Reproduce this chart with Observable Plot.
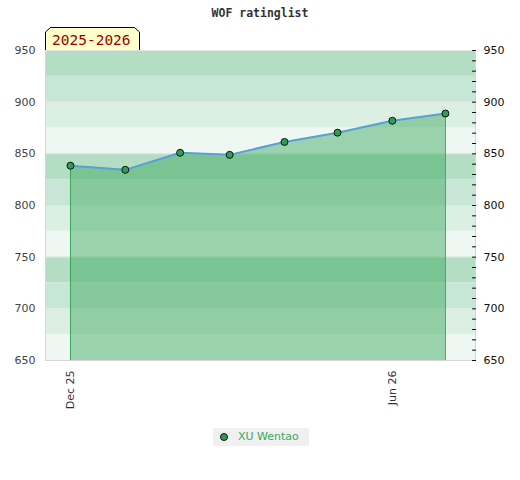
<!DOCTYPE html>
<html><head><meta charset="utf-8">
<script src="https://cdn.jsdelivr.net/npm/d3@7"></script>
<script src="https://cdn.jsdelivr.net/npm/@observablehq/plot@0.6"></script>
<style>
body{margin:0;background:#fff;}
#wrap{position:relative;width:520px;height:480px;font-family:"DejaVu Sans",sans-serif;}
#title{position:absolute;top:6px;left:0;width:520px;text-align:center;font:bold 11.5px "DejaVu Sans Mono",monospace;line-height:14px;color:#333;}
#chart{position:absolute;top:20px;left:0;}
#legend{position:absolute;left:213px;top:428px;width:96px;height:18px;background:#f0f0f0;}
#legend svg{position:absolute;left:0;top:0;}
#legend span{position:absolute;left:25px;top:0;line-height:18px;font-size:11px;color:#3aa85a;font-family:"DejaVu Sans",sans-serif;}
</style></head>
<body>
<div id="wrap">
  <div id="title"></div>
  <div id="chart"></div>
  <div id="legend"><svg width="20" height="18"><circle cx="11" cy="9" r="3.5" fill="#2e9e55" stroke="#111" stroke-width="1"/></svg><span></span></div>
</div>
<script>
const titleText = "WOF ratinglist";
const seasonLabel = "2025-2026";
const playerName = "XU Wentao";
const months = ["2025-12-01","2026-01-01","2026-02-01","2026-03-01","2026-04-01","2026-05-01","2026-06-01","2026-07-01"];
const ratings = [838.5, 834.5, 851, 849, 861.5, 870.5, 882, 889];
const yTicks = [650, 700, 750, 800, 850, 900, 950];
const yMinorTicks = d3.range(650, 951, 10);
const xTickDates = ["2025-12-01", "2026-06-01"];
const xTickLabels = ["Dec 25", "Jun 26"];
const bandColors = ["#b3dec4", "#c8e6d5", "#dcefe3", "#eef7f2"];

document.getElementById("title").textContent = titleText;
document.querySelector("#legend span").textContent = playerName;

const series = months.map((m, i) => ({date: new Date(m), rating: ratings[i]}));
const bands = d3.range(950, 650, -25).map((top, i) => ({hi: top, lo: top - 25, color: bandColors[i % bandColors.length]}));
const xDomain = [new Date("2025-11-16T21:00:00Z"), new Date("2026-07-18T00:00:00Z")];
const tickShape = {draw(context, l) { context.moveTo(0, 0); context.lineTo(0, -l); }};

const plot = Plot.plot({
  width: 520, height: 400,
  marginLeft: 45, marginRight: 45, marginTop: 30, marginBottom: 60,
  x: {type: "utc", domain: xDomain},
  y: {domain: [650, 950]},
  color: {type: "identity"},
  style: {fontFamily: "DejaVu Sans, sans-serif", fontSize: "11px", background: "transparent", overflow: "visible"},
  marks: [
    Plot.rect(bands, {y1: "lo", y2: "hi", fill: "color"}),
    Plot.ruleY(yTicks, {stroke: "#e4e4e4"}),
    Plot.areaY(series, {x: "date", y1: 650, y2: "rating", fill: "rgb(49,165,87)", fillOpacity: 0.44}),
    Plot.ruleX([series[0], series[series.length - 1]], {x: "date", y1: 650, y2: "rating", stroke: "#3aa85a"}),
    Plot.lineY(series, {x: "date", y: "rating", stroke: "#5a9fd9", strokeWidth: 2}),
    Plot.dot(series, {x: "date", y: "rating", r: 3.5, fill: "#2e9e55", stroke: "#111", strokeWidth: 1}),
    Plot.ruleX(xDomain, {stroke: "#d6d6d6"}),
    Plot.ruleY([650], {stroke: "#d6d6d6"}),
    Plot.axisY(yTicks, {anchor: "left", tickSize: 0, tickPadding: 10, fill: "#444"}),
    Plot.vector(yMinorTicks, {y: d => d, frameAnchor: "right", length: 3, rotate: -90, anchor: "start", shape: tickShape, stroke: "#000", strokeWidth: 1}),
    Plot.axisY(yTicks, {anchor: "right", tickSize: 0, tickPadding: 8, fill: "#111"}),
    Plot.axisX(xTickDates.map(d => new Date(d)), {anchor: "bottom", tickSize: 0, tickPadding: 10, tickRotate: -90, tickFormat: (d, i) => xTickLabels[i], fill: "#333"})
  ]
});
document.getElementById("chart").appendChild(plot);

const svg = d3.select(plot);
const g = svg.append("g");
g.append("path")
  .attr("d", "M45.5,30 V12 L50.5,7.5 H134.5 L139.5,12 V30")
  .attr("fill", "#ffffcc").attr("stroke", "#000").attr("stroke-width", 1);
g.append("text")
  .attr("x", 52).attr("y", 25)
  .attr("text-anchor", "start")
  .attr("fill", "#990000")
  .style("font", "14.5px 'DejaVu Sans Mono', monospace")
  .text(seasonLabel);
</script>
</body></html>
